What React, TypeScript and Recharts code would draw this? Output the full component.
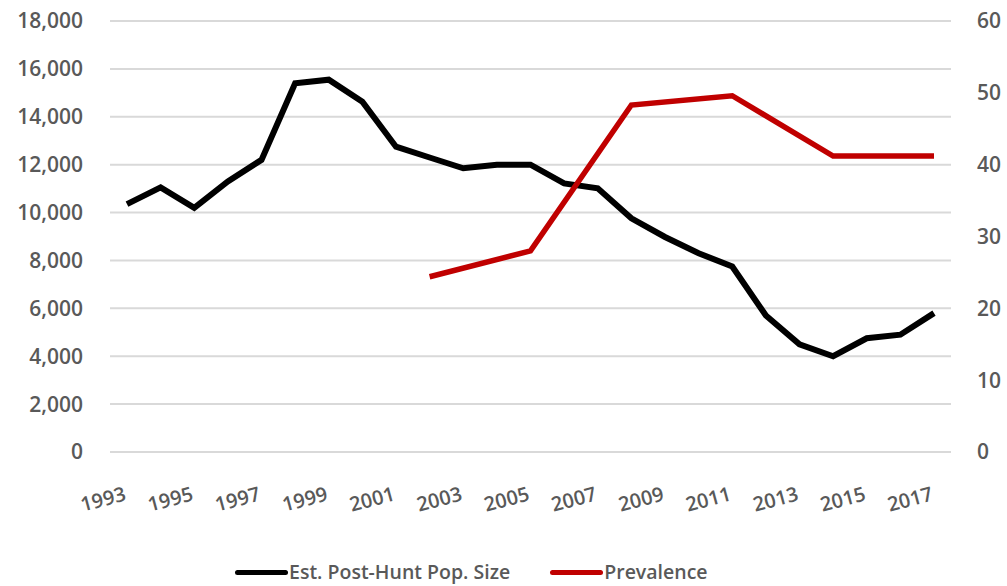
import React from "react";
import {
  LineChart,
  Line,
  XAxis,
  YAxis,
  CartesianGrid,
  Legend,
} from "recharts";

// Years on the category axis
const years = [
  "1993", "1994", "1995", "1996", "1997", "1998", "1999", "2000", "2001",
  "2002", "2003", "2004", "2005", "2006", "2007", "2008", "2009", "2010",
  "2011", "2012", "2013", "2014", "2015", "2016", "2017",
];

// Estimated post-hunt population size (left axis)
const popSize = [
  10350, 11050, 10200, 11300, 12200, 15400, 15550, 14630, 12750,
  12300, 11850, 12000, 12000, 11220, 11010, 9760, 8980, 8300,
  7750, 5700, 4500, 4000, 4750, 4900, 5800,
];

// Prevalence (right axis), surveyed every third year
const prevalence: (number | null)[] = [
  null, null, null, null, null, null, null, null, null,
  24.4, null, null, 28.0, null, null, 48.3, null, null,
  49.6, null, null, 41.2, null, null, 41.2,
];

const leftTicks = [0, 2000, 4000, 6000, 8000, 10000, 12000, 14000, 16000, 18000];
const rightTicks = [0, 10, 20, 30, 40, 50, 60];

const FONT = "'Open Sans', 'DejaVu Sans', sans-serif";
const TEXT = "#595959";
const BLACK = "#000000";
const RED = "#c00000";

const data = years.map((year, i) => ({
  year,
  pop: popSize[i],
  prev: prevalence[i],
}));

function YearTick(props: any) {
  const { x, y, payload } = props;
  const ty = y + 40;
  return (
    <text
      x={x}
      y={ty}
      transform={`rotate(-15, ${x}, ${ty})`}
      textAnchor="end"
      fill={TEXT}
      fontSize={20}
      fontWeight={600}
      fontFamily={FONT}
    >
      {payload.value}
    </text>
  );
}

function LegendBox() {
  const items = [
    { label: "Est. Post-Hunt Pop. Size", color: BLACK },
    { label: "Prevalence", color: RED },
  ];
  return (
    <div
      style={{
        display: "flex",
        justifyContent: "flex-start",
        gap: "40px",
        height: "28px",
        lineHeight: "28px",
        fontFamily: FONT,
        fontSize: "19.5px",
        fontWeight: 600,
        color: TEXT,
        paddingLeft: "225px",
      }}
    >
      {items.map((it) => (
        <div key={it.label} style={{ display: "flex", alignItems: "center" }}>
          <div
            style={{
              width: "53px",
              height: "5px",
              borderRadius: "3px",
              background: it.color,
              marginRight: "1px",
            }}
          />
          <span>{it.label}</span>
        </div>
      ))}
    </div>
  );
}

export default function App() {
  return (
    <div style={{ position: "absolute", left: 0, top: 0, width: 1007, height: 586, background: "#fff" }}>
      <LineChart
        width={1007}
        height={586}
        data={data}
        margin={{ top: 21, right: 10, left: 10, bottom: 0 }}
      >
        <CartesianGrid vertical={false} stroke="#d9d9d9" strokeWidth={2} />
        <XAxis
          dataKey="year"
          interval={1}
          axisLine={false}
          tickLine={false}
          height={106}
          padding={{ left: 17, right: 17 }}
          tick={<YearTick />}
        />
        <YAxis
          domain={[0, 18000]}
          ticks={leftTicks}
          width={100}
          axisLine={false}
          tickLine={false}
          tickSize={0}
          tickMargin={27}
          tickFormatter={(v: number) => v.toLocaleString("en-US")}
          tick={{ fill: TEXT, fontSize: 21, fontWeight: 600, fontFamily: FONT }}
        />
        <YAxis
          yAxisId="right"
          orientation="right"
          domain={[0, 60]}
          ticks={rightTicks}
          width={46}
          axisLine={false}
          tickLine={false}
          tickSize={0}
          tickMargin={26}
          tick={{ fill: TEXT, fontSize: 21, fontWeight: 600, fontFamily: FONT, textAnchor: "start" }}
        />
        <Legend verticalAlign="bottom" content={<LegendBox />} />
        <Line
          type="linear"
          dataKey="pop"
          name="Est. Post-Hunt Pop. Size"
          stroke={BLACK}
          strokeWidth={6}
          dot={false}
          activeDot={false}
          isAnimationActive={false}
        />
        <Line
          yAxisId="right"
          type="linear"
          dataKey="prev"
          name="Prevalence"
          stroke={RED}
          strokeWidth={5.5}
          dot={false}
          activeDot={false}
          connectNulls
          isAnimationActive={false}
        />
      </LineChart>
    </div>
  );
}
